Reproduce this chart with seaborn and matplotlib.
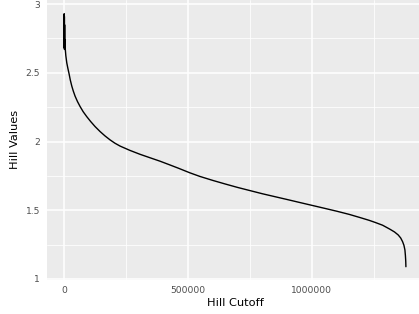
import matplotlib
matplotlib.use("Agg")
import matplotlib.pyplot as plt
from matplotlib.ticker import FixedLocator
import seaborn as sb
import pandas as pd

# values
hill_cutoff = [0, 400, 800, 1200, 1600, 2000, 2500, 3000, 4032, 7000, 10900,
               15000, 20200, 25000, 31000, 37000, 44400, 54000, 64500, 77000,
               91500, 107000, 125000, 145000, 165000, 185500, 205000, 225800,
               265000, 306500, 345000, 387000, 425000, 461000, 508000, 548000,
               600000, 650000, 700000, 750000, 800000, 850000, 900000, 951600,
               1032000, 1100000, 1150000, 1193500, 1230000, 1254000, 1285000,
               1314500, 1333000, 1348000, 1358000, 1365700, 1371000, 1375000,
               1377000, 1378300, 1379000]
hill_values = [2.75, 2.93, 2.68, 2.91, 2.67, 2.85, 2.72, 2.74, 2.69, 2.625, 2.572,
               2.535, 2.492, 2.448, 2.404, 2.368, 2.330, 2.291, 2.255, 2.217,
               2.181, 2.146, 2.109, 2.073, 2.041, 2.012, 1.988, 1.967,
               1.936, 1.907, 1.883, 1.857, 1.831, 1.806, 1.772, 1.746,
               1.717, 1.691, 1.666, 1.643, 1.620, 1.599, 1.578, 1.556,
               1.522, 1.493, 1.470, 1.447, 1.427, 1.412, 1.391,
               1.362, 1.342, 1.320, 1.298, 1.271, 1.245, 1.211,
               1.17, 1.13, 1.089]

df = pd.DataFrame({"Hill Cutoff": hill_cutoff, "Hill Values": hill_values})

sb.set_style("dark", {"axes.facecolor": "#EBEBEB"})
plt.rcParams['font.family'] = ['DejaVu Sans']

fig = plt.figure(figsize=(4.19, 3.14), dpi=100)
ax = fig.add_axes([47 / 419, 34.5 / 314, 376 / 419, 279.5 / 314])

sb.lineplot(data=df, x="Hill Cutoff", y="Hill Values", color="black",
            linewidth=1.0, estimator=None, sort=False, ax=ax)

ax.set_xlim(-68950, 1447950)
ax.set_ylim(0.996, 3.03)
ax.xaxis.set_major_locator(FixedLocator([0, 500000, 1000000]))
ax.xaxis.set_minor_locator(FixedLocator([250000, 750000, 1250000]))
ax.yaxis.set_major_locator(FixedLocator([1, 1.5, 2, 2.5, 3]))
ax.yaxis.set_minor_locator(FixedLocator([1.25, 1.75, 2.25, 2.75]))
ax.set_xticklabels(["0", "500000", "1000000"])
ax.set_yticklabels(["1", "1.5", "2", "2.5", "3"])

ax.grid(which="major", color="white", linewidth=1.1)
ax.grid(which="minor", color="white", linewidth=0.55)
ax.set_axisbelow(True)
for s in ax.spines.values():
    s.set_visible(False)

ax.tick_params(which="major", direction="out", length=3, width=0.8,
               color="#333333", labelsize=6.6, labelcolor="#4D4D4D", pad=2)
ax.tick_params(which="minor", length=0)

ax.set_xlabel("Hill Cutoff", fontsize=8.2, color="black", labelpad=2)
ax.set_ylabel("Hill Values", fontsize=8.2, color="black", labelpad=4)

fig.savefig("out.png", dpi=100)
